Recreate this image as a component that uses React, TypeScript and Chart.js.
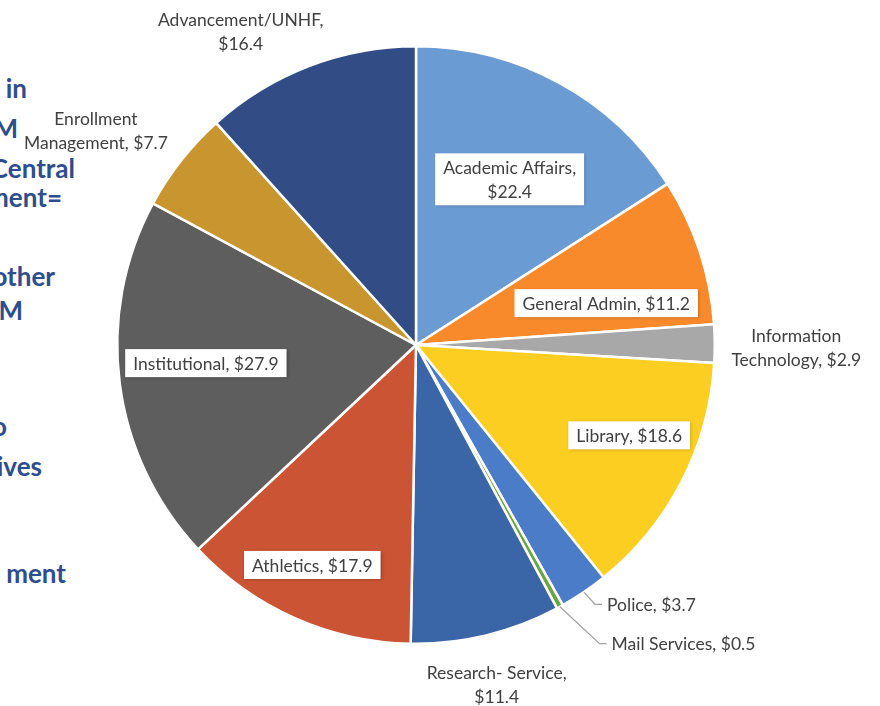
import React, { useEffect, useRef } from "react";
import { Chart, registerables } from "chart.js";

Chart.register(...registerables);

const categories = [
  "Academic Affairs",
  "General Admin",
  "Information Technology",
  "Library",
  "Police",
  "Mail Services",
  "Research- Service",
  "Athletics",
  "Institutional",
  "Enrollment Management",
  "Advancement/UNHF",
];
const values = [22.4, 11.2, 2.9, 18.6, 3.7, 0.5, 11.4, 17.9, 27.9, 7.7, 16.4];
const colors = [
  "#6A9BD3", "#F88A2C", "#A8A8A8", "#FCCE22", "#4A7CC8", "#6BA544",
  "#3A66A8", "#CB5435", "#5E5E5E", "#C8952E", "#324D85",
];
// how each label wraps: none, after comma, at first space of the category
const labelBreak = ["comma", "none", "space", "none", "none", "none", "comma", "none", "none", "space", "comma"];
const labelBoxed = [true, true, false, true, false, false, false, true, true, false, false];
const labelAlign = ["center", "center", "center", "center", "left", "left", "center", "center", "center", "center", "center"];
// placement: radial fraction of radius, angular shift (deg) from slice middle
const labelRadius = [0.637, 0.652, 1.273, 0.775, 1.078, 1.195, 1.168, 0.814, 0.706, 1.29, 1.203];
const labelShift = [0.8, 5.9, 0.6, -4.3, -2.2, -4.4, 0.2, 1.3, 2.5, -4.3, -8.2];
const leader = [false, false, false, false, true, true, false, false, false, false, false];

const sideText = ["in", "M", "Central", "ment=", "other", "M", "o", "ives", "ment"];
const sideRight = [27, 18, 75, 62, 55, 23, 7, 42, 66];
const sideY = [88, 128, 168, 197, 276, 310, 426, 466, 573];

function labelLines(i: number): string[] {
  const cat = categories[i];
  const val = "$" + values[i].toFixed(1);
  const mode = labelBreak[i];
  if (mode === "comma") return [cat + ",", val];
  if (mode === "space") {
    const k = cat.indexOf(" ");
    return [cat.slice(0, k), cat.slice(k + 1) + ", " + val];
  }
  return [cat + ", " + val];
}

const FONT = "17.5px Lato, 'Open Sans', sans-serif";
const LINE_H = 24;

const labelPlugin = {
  id: "sliceLabels",
  afterDatasetsDraw(chart: any) {
    const ctx = chart.ctx as CanvasRenderingContext2D;
    const arcs = chart.getDatasetMeta(0).data;
    ctx.save();
    ctx.font = FONT;
    ctx.textBaseline = "middle";
    arcs.forEach((arc: any, i: number) => {
      const { x, y, startAngle, endAngle, outerRadius } = arc.getProps(
        ["x", "y", "startAngle", "endAngle", "outerRadius"],
        true
      );
      const mid = (startAngle + endAngle) / 2;
      const th = mid + (labelShift[i] * Math.PI) / 180;
      const lx = x + Math.cos(th) * outerRadius * labelRadius[i];
      const ly = y + Math.sin(th) * outerRadius * labelRadius[i];
      const lines = labelLines(i);
      const widths = lines.map((l) => ctx.measureText(l).width);
      const w = Math.max(...widths);
      const h = lines.length * LINE_H;
      if (labelBoxed[i]) {
        ctx.save();
        ctx.shadowColor = "rgba(0,0,0,0.28)";
        ctx.shadowBlur = 3;
        ctx.shadowOffsetX = 1;
        ctx.shadowOffsetY = 1;
        ctx.fillStyle = "#FFFFFF";
        ctx.fillRect(lx - w / 2 - 8, ly - h / 2 - 2, w + 16, h + 4);
        ctx.restore();
      }
      if (leader[i]) {
        const sx = x + Math.cos(mid) * outerRadius;
        const sy = y + Math.sin(mid) * outerRadius;
        ctx.strokeStyle = "#A0A0A0";
        ctx.lineWidth = 1.2;
        ctx.beginPath();
        ctx.moveTo(sx, sy);
        ctx.lineTo(lx - 12, ly);
        ctx.lineTo(lx - 5, ly);
        ctx.stroke();
      }
      ctx.fillStyle = "#404040";
      ctx.textAlign = labelAlign[i] as CanvasTextAlign;
      lines.forEach((l, k) => {
        ctx.fillText(l, lx, ly - h / 2 + LINE_H / 2 + k * LINE_H + 1);
      });
    });
    ctx.restore();
  },
};

export default function App() {
  const ref = useRef<HTMLCanvasElement>(null);
  useEffect(() => {
    if (!ref.current) return;
    const chart = new Chart(ref.current, {
      type: "pie",
      data: {
        labels: categories,
        datasets: [
          {
            data: values,
            backgroundColor: colors,
            borderColor: "#FFFFFF",
            borderWidth: 2.5,
          },
        ],
      },
      options: {
        animation: false,
        responsive: false,
        maintainAspectRatio: false,
        layout: { padding: { left: 116, right: 164, top: 45, bottom: 61 } },
        plugins: { legend: { display: false }, tooltip: { enabled: false } },
      },
      plugins: [labelPlugin],
    });
    return () => chart.destroy();
  }, []);

  return (
    <div
      style={{
        position: "absolute",
        left: 0,
        top: 0,
        width: 880,
        height: 706,
        overflow: "hidden",
        background: "#FFFFFF",
      }}
    >
      {sideText.map((t, i) => (
        <div
          key={i}
          style={{
            position: "absolute",
            right: 880 - sideRight[i],
            top: sideY[i] - 16,
            height: 32,
            lineHeight: "32px",
            whiteSpace: "nowrap",
            font: "bold 26px Lato, 'Open Sans', sans-serif",
            color: "#2E4D8C",
          }}
        >
          {t}
        </div>
      ))}
      <canvas
        ref={ref}
        width={880}
        height={706}
        style={{ position: "absolute", left: 0, top: 0, width: 880, height: 706 }}
      />
    </div>
  );
}
